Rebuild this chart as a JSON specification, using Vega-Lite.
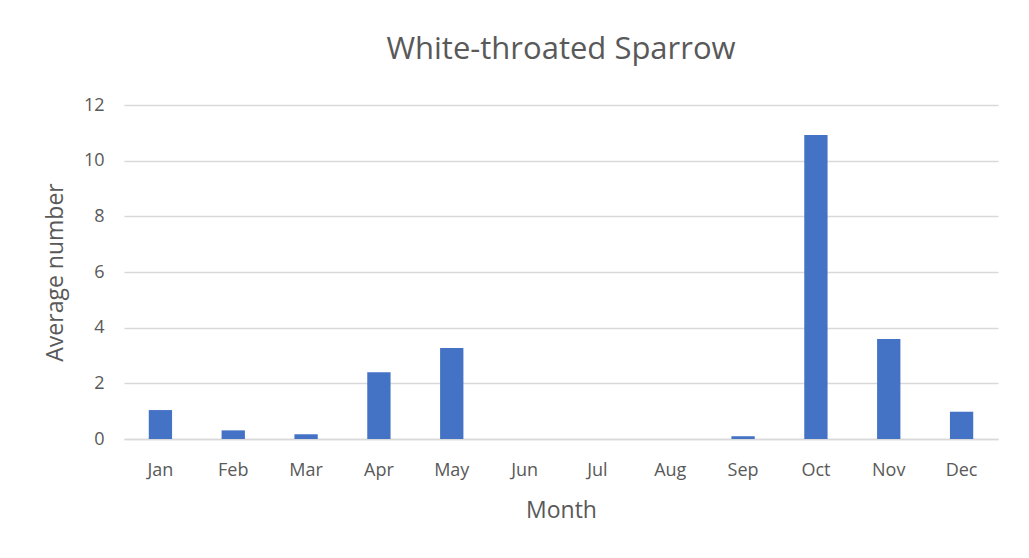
{
  "$schema": "https://vega.github.io/schema/vega-lite/v6.json",
  "width": 874,
  "height": 334,
  "autosize": {"type": "none"},
  "padding": {"left": 124, "top": 105, "right": 31, "bottom": 119},
  "background": "white",
  "title": {
    "text": "White-throated Sparrow",
    "font": "Open Sans",
    "fontSize": 31,
    "fontWeight": "normal",
    "color": "#595959",
    "anchor": "middle",
    "offset": 30
  },
  "data": {
    "values": [
      {"Month": "Jan", "Average": 1.04},
      {"Month": "Feb", "Average": 0.31},
      {"Month": "Mar", "Average": 0.17},
      {"Month": "Apr", "Average": 2.4},
      {"Month": "May", "Average": 3.27},
      {"Month": "Jun", "Average": 0},
      {"Month": "Jul", "Average": 0},
      {"Month": "Aug", "Average": 0},
      {"Month": "Sep", "Average": 0.1},
      {"Month": "Oct", "Average": 10.92},
      {"Month": "Nov", "Average": 3.59},
      {"Month": "Dec", "Average": 0.98}
    ]
  },
  "mark": {"type": "bar", "color": "#4472C4"},
  "encoding": {
    "x": {
      "field": "Month",
      "type": "nominal",
      "sort": null,
      "title": "Month",
      "scale": {"paddingInner": 0.68, "paddingOuter": 0.34},
      "axis": {
        "labelAngle": 0,
        "labelFont": "Open Sans",
        "labelFontSize": 18,
        "labelColor": "#595959",
        "labelPadding": 22,
        "ticks": false,
        "domainColor": "#d9d9d9",
        "domainWidth": 1.5,
        "titleFont": "Open Sans",
        "titleFontSize": 23,
        "titleFontWeight": "normal",
        "titleColor": "#595959",
        "titlePadding": 20
      }
    },
    "y": {
      "field": "Average",
      "type": "quantitative",
      "title": "Average number",
      "scale": {"domain": [0, 12]},
      "axis": {
        "values": [0, 2, 4, 6, 8, 10, 12],
        "labelFont": "Open Sans",
        "labelFontSize": 18,
        "labelColor": "#595959",
        "labelPadding": 20,
        "ticks": false,
        "domain": false,
        "gridColor": "#d9d9d9",
        "gridWidth": 1.5,
        "titleFont": "Open Sans",
        "titleFontSize": 23,
        "titleFontWeight": "normal",
        "titleColor": "#595959",
        "titlePadding": 16
      }
    }
  },
  "config": {"view": {"stroke": null}}
}
